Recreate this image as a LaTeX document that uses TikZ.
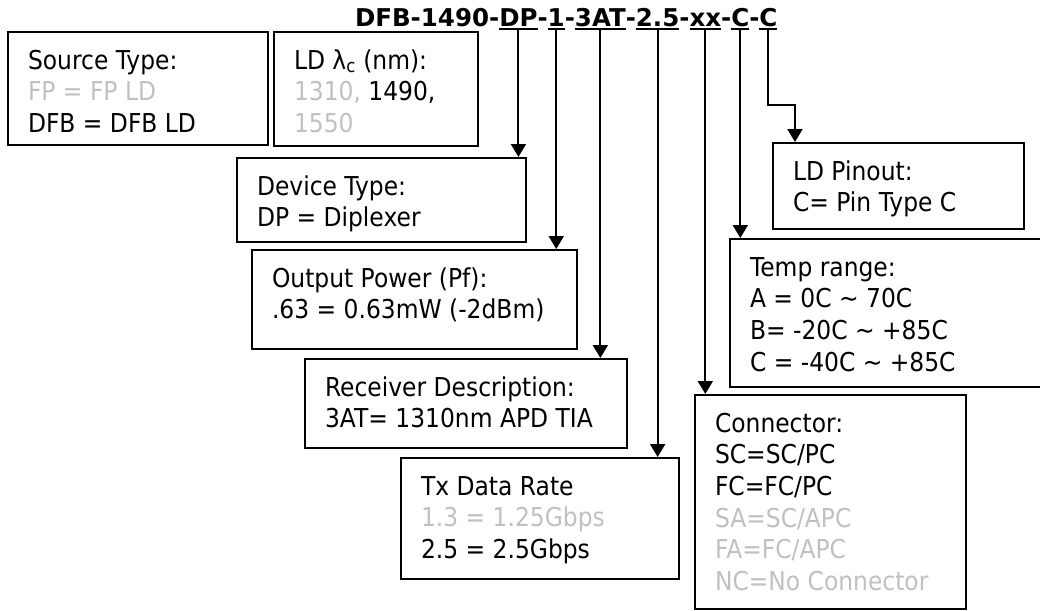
\documentclass[tikz,border=0pt]{standalone}
\usepackage{fontspec}
\setmainfont{DejaVu Sans}[FakeStretch=0.9]
\newfontfamily\codefont{DejaVu Sans}
\usetikzlibrary{arrows.meta}
\definecolor{optgray}{HTML}{C0C0C0}
% box text: total height, text width, lines
\newcommand{\boxbody}[3]{\parbox[t][#1pt][t]{#2pt}{\rule{0pt}{37pt}#3}}
\tikzset{
  box/.style={draw, line width=2pt, anchor=north west, inner xsep=20pt, inner ysep=0pt,
              font=\fontsize{26}{31.7}\selectfont},
  code/.style={anchor=base west, inner sep=0pt, outer sep=0pt, text depth=2.5pt,
               font=\codefont\bfseries\fontsize{24.5}{30}\selectfont},
  uline/.style={line width=2pt},
  arr/.style={line width=2pt, -{Triangle[width=15pt,length=13pt]}},
}
\begin{document}
\begin{tikzpicture}[x=1pt,y=-1pt]
\useasboundingbox (0,0) rectangle (1040,610);
\clip (0,0) rectangle (1040,610);
%--------------------------------------------------- part number
\node[code] (t0) at (355,27) {DFB-1490-};
\node[code] (t1) at (t0.base east) {DP};
\node[code] (h1) at (t1.base east) {-};
\node[code] (t2) at (h1.base east) {1};
\node[code] (h2) at (t2.base east) {-};
\node[code] (t3) at (h2.base east) {3AT};
\node[code] (h3) at (t3.base east) {-};
\node[code] (t4) at (h3.base east) {2.5};
\node[code] (h4) at (t4.base east) {-};
\node[code] (t5) at (h4.base east) {xx};
\node[code] (h5) at (t5.base east) {-};
\node[code] (t6) at (h5.base east) {C};
\node[code] (h6) at (t6.base east) {-};
\node[code] (t7) at (h6.base east) {C};
\foreach \t in {t1,t2,t3,t4,t5,t6,t7}
  \draw[uline] (\t.south west) -- (\t.south east);
%--------------------------------------------------- field boxes
\node[box] (src) at (7,31) {\boxbody{113}{220}{Source Type:\\
  \textcolor{optgray}{FP = FP LD}\\
  DFB = DFB LD}};
\node[box] (lam) at (273,31) {\boxbody{114}{164}{LD λ\textsubscript{c} (nm):\\
  \textcolor{optgray}{1310,} 1490,\\
  \textcolor{optgray}{1550}}};
\node[box] (dev) at (236,157) {\boxbody{84}{249}{Device Type:\\
  DP = Diplexer}};
\node[box] (pwr) at (251,249) {\boxbody{99}{285}{Output Power (Pf):\\
  .63 = 0.63mW (-2dBm)}};
\node[box] (rcv) at (304,358) {\boxbody{89}{282}{Receiver Description:\\
  3AT= 1310nm APD TIA}};
\node[box] (txr) at (400,457) {\boxbody{121}{238}{Tx Data Rate\\
  \textcolor{optgray}{1.3 = 1.25Gbps}\\
  2.5 = 2.5Gbps}};
\node[box] (pin) at (772,142) {\boxbody{86}{211}{LD Pinout:\\
  C= Pin Type C}};
\node[box] (tmp) at (729,238) {\boxbody{148}{281}{Temp range:\\
  A = 0C \textasciitilde{} 70C\\
  B= -20C \textasciitilde{} +85C\\
  C = -40C \textasciitilde{} +85C}};
\node[box] (con) at (694,394) {\boxbody{214}{231}{Connector:\\
  SC=SC/PC\\
  FC=FC/PC\\
  \textcolor{optgray}{SA=SC/APC}\\
  \textcolor{optgray}{FA=FC/APC}\\
  \textcolor{optgray}{NC=No Connector}}};
%--------------------------------------------------- arrows
\draw[arr] (t1.south) -- (t1.south |- dev.north);
\draw[arr] (t2.south) -- (t2.south |- pwr.north);
\draw[arr] (t3.south) -- (t3.south |- rcv.north);
\draw[arr] (t4.south) -- (t4.south |- txr.north);
\draw[arr] (t5.south) -- (t5.south |- con.north);
\draw[arr] (t6.south) -- (t6.south |- tmp.north);
\coordinate (bend) at (795,105);
\draw[arr] (t7.south) |- (bend) -- (bend |- pin.north);
\end{tikzpicture}
\end{document}
